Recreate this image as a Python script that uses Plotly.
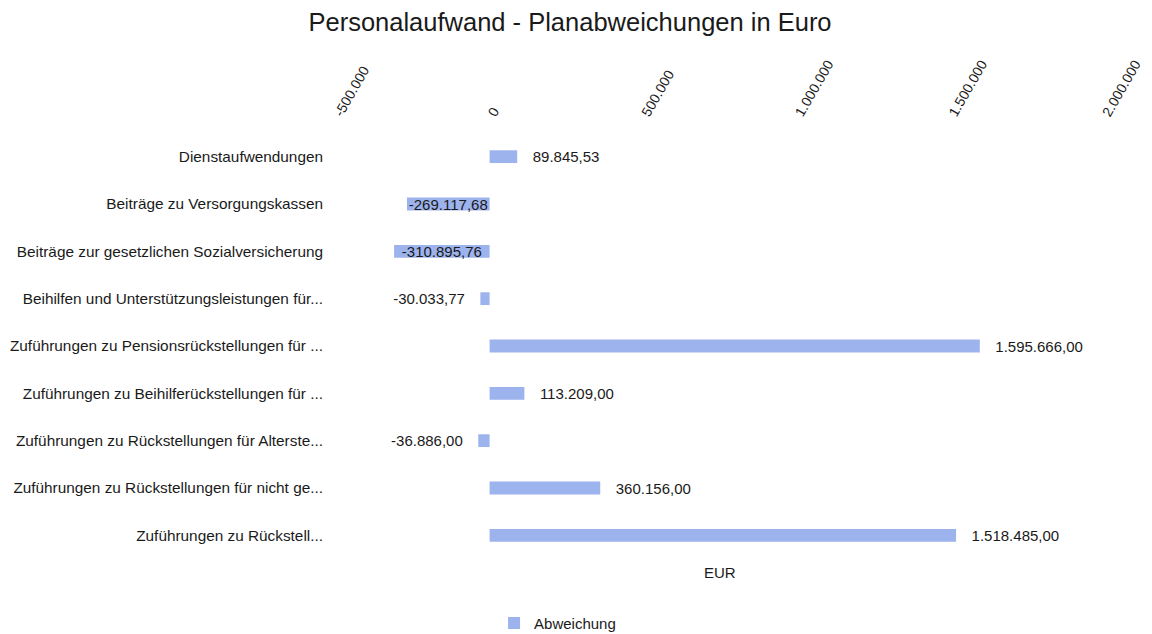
import plotly.graph_objects as go

categories = [
    "Dienstaufwendungen",
    "Beiträge zu Versorgungskassen",
    "Beiträge zur gesetzlichen Sozialversicherung",
    "Beihilfen und Unterstützungsleistungen für...",
    "Zuführungen zu Pensionsrückstellungen für ...",
    "Zuführungen zu Beihilferückstellungen für ...",
    "Zuführungen zu Rückstellungen für Alterste...",
    "Zuführungen zu Rückstellungen für nicht ge...",
    "Zuführungen zu Rückstell...",
]
abweichung = [89845.53, -269117.68, -310895.76, -30033.77, 1595666.00,
              113209.00, -36886.00, 360156.00, 1518485.00]
inside_label = [False, True, True, False, False, False, False, False, False]

tick_vals = [-500000, 0, 500000, 1000000, 1500000, 2000000]
tick_text = ["-500.000", "0", "500.000", "1.000.000", "1.500.000", "2.000.000"]


def de_fmt(v):
    s = f"{abs(v):,.2f}".replace(",", "X").replace(".", ",").replace("X", ".")
    return ("-" if v < 0 else "") + s


pad = "\u00a0\u00a0\u00a0"
texts, positions = [], []
for v, ins in zip(abweichung, inside_label):
    if ins:
        texts.append(de_fmt(v))
        positions.append("inside")
    elif v >= 0:
        texts.append(pad + de_fmt(v))
        positions.append("outside")
    else:
        texts.append(de_fmt(v) + pad)
        positions.append("outside")

FONT = "Liberation Sans, Arial, sans-serif"

fig = go.Figure()
fig.add_trace(go.Bar(
    y=categories,
    x=abweichung,
    orientation="h",
    name="Abweichung",
    marker=dict(color="#9db3ee", line=dict(width=0)),
    width=0.27,
    text=texts,
    textposition=positions,
    insidetextanchor="middle",
    textangle=0,
    constraintext="none",
    cliponaxis=False,
    textfont=dict(family=FONT, size=15, color="#1a1a1a"),
    insidetextfont=dict(family=FONT, size=15, color="#1a1a1a"),
    outsidetextfont=dict(family=FONT, size=15, color="#1a1a1a"),
    hoverinfo="skip",
))

fig.update_layout(
    width=1152,
    height=634,
    paper_bgcolor="white",
    plot_bgcolor="white",
    margin=dict(l=336, r=48, t=133, b=75, autoexpand=False),
    font=dict(family=FONT, size=15, color="#1a1a1a"),
    title=dict(
        text="Personalaufwand - Planabweichungen in Euro",
        x=0.4948, xref="container", xanchor="center",
        y=0.9653, yref="container", yanchor="middle",
        font=dict(family=FONT, size=25.5, color="#1a1a1a"),
    ),
    xaxis=dict(
        side="top",
        range=[-500000, 2000000],
        tickvals=tick_vals,
        ticktext=tick_text,
        tickangle=-60,
        ticklabelstandoff=8,
        automargin=False,
        tickfont=dict(family=FONT, size=14, color="#1a1a1a"),
        showgrid=False,
        zeroline=False,
        showline=False,
        ticks="",
    ),
    yaxis=dict(
        autorange="reversed",
        showgrid=False,
        zeroline=False,
        showline=False,
        ticks="",
        automargin=False,
        ticklabelstandoff=12,
        tickfont=dict(family=FONT, size=15.35, color="#1a1a1a"),
    ),
    showlegend=True,
    legend=dict(
        orientation="h",
        x=0.484, xref="container", xanchor="center",
        y=-0.151, yref="paper", yanchor="middle",
        font=dict(family=FONT, size=15, color="#1a1a1a"),
        itemwidth=30,
    ),
    annotations=[dict(
        text="EUR", xref="paper", yref="paper",
        x=0.5, y=-0.008, xanchor="center", yanchor="top",
        showarrow=False,
        font=dict(family=FONT, size=15, color="#1a1a1a"),
    )],
)

fig.write_html("out.html", config={"displayModeBar": False},
               post_script="document.body.style.margin='0';")
